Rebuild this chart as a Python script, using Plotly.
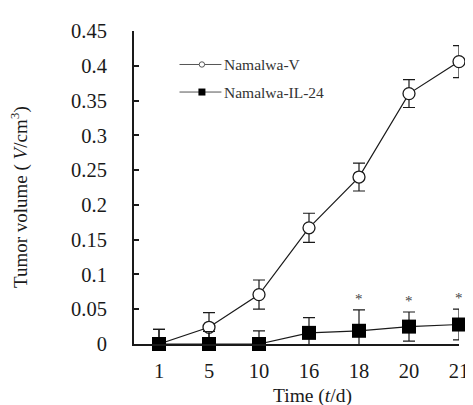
import plotly.graph_objects as go

days = ["1", "5", "10", "16", "18", "20", "21"]
v_mean = [0.0, 0.024, 0.071, 0.167, 0.240, 0.360, 0.406]
v_err = [0.021, 0.021, 0.021, 0.021, 0.020, 0.020, 0.023]
il_mean = [0.0, 0.0, 0.0, 0.016, 0.019, 0.025, 0.028]
il_err = [0.021, 0.018, 0.019, 0.022, 0.030, 0.021, 0.022]
sig_days = ["18", "20", "21"]
series_names = ["Namalwa-V", "Namalwa-IL-24"]

FONT = "Liberation Serif"
INK = "#1a1a1a"

fig = go.Figure()
fig.add_trace(go.Scatter(
    x=days, y=v_mean, mode="lines+markers", name=series_names[0], showlegend=False,
    line=dict(color=INK, width=1.2),
    marker=dict(symbol="circle", size=12, color="white", line=dict(color=INK, width=1.3)),
    error_y=dict(type="data", array=v_err, color=INK, thickness=1.2, width=6),
    cliponaxis=False))
fig.add_trace(go.Scatter(
    x=days, y=il_mean, mode="lines+markers", name=series_names[1], showlegend=False,
    line=dict(color=INK, width=1.2),
    marker=dict(symbol="square", size=14, color="black", line=dict(color="black", width=0)),
    error_y=dict(type="data", array=il_err, color=INK, thickness=1.2, width=6),
    cliponaxis=False))

# significance asterisks
for d in sig_days:
    i = days.index(d)
    fig.add_annotation(x=i, y=il_mean[i] + il_err[i], text="*", showarrow=False,
                       yshift=11, font=dict(family=FONT, size=15, color="#444"))

# manual legend (paper coordinates)
leg_rows = [0.893, 0.805]
for k, name in enumerate(series_names):
    yy = leg_rows[k]
    fig.add_shape(type="line", xref="paper", yref="paper", x0=0.140, x1=0.269, y0=yy, y1=yy,
                  line=dict(color="#555", width=1))
    if k == 0:
        fig.add_shape(type="circle", xref="paper", yref="paper", xsizemode="pixel", ysizemode="pixel",
                      xanchor=0.209, yanchor=yy, x0=-2.7, x1=2.7, y0=-2.7, y1=2.7,
                      fillcolor="white", line=dict(color="#555", width=1))
    else:
        fig.add_shape(type="rect", xref="paper", yref="paper", xsizemode="pixel", ysizemode="pixel",
                      xanchor=0.209, yanchor=yy, x0=-3.5, x1=3.5, y0=-3.5, y1=3.5,
                      fillcolor="black", line=dict(color="black", width=0))
    fig.add_annotation(xref="paper", yref="paper", x=0.272, y=yy, xanchor="left", yanchor="middle",
                       text=name, showarrow=False, font=dict(family=FONT, size=15.5, color="#333"))

fig.add_annotation(xref="paper", yref="paper", x=-0.395, y=0.47, text="Tumor volume ( <i>V</i>/cm<sup>3</sup>)",
                   textangle=-90, showarrow=False, font=dict(family=FONT, size=19, color=INK))
fig.add_annotation(xref="paper", yref="paper", x=0.55, y=-0.165, text="Time (<i>t</i>/d)",
                   showarrow=False, font=dict(family=FONT, size=19.5, color=INK), yanchor="middle")

fig.update_layout(
    width=473, height=405,
    margin=dict(l=126, r=12, t=16, b=69),
    plot_bgcolor="white", paper_bgcolor="white",
    font=dict(family=FONT, size=20.5, color=INK),
    showlegend=False,
    xaxis=dict(type="category", categoryorder="array", categoryarray=days, range=[-0.5, 6.0],
               showline=True, linecolor=INK, linewidth=1.5, ticks="", showgrid=False,
               zeroline=False, ticklabelstandoff=8, tickfont=dict(size=20.5)),
    yaxis=dict(range=[0, 0.45], tickvals=[0, 0.05, 0.1, 0.15, 0.2, 0.25, 0.3, 0.35, 0.4, 0.45],
               ticktext=["0", "0.05", "0.1", "0.15", "0.2", "0.25", "0.3", "0.35", "0.4", "0.45"],
               showline=True, linecolor=INK, linewidth=2, ticks="inside", ticklen=5, tickwidth=2,
               tickcolor=INK, showgrid=False, zeroline=False, ticklabelstandoff=21),
)

fig.write_html("out.html")
